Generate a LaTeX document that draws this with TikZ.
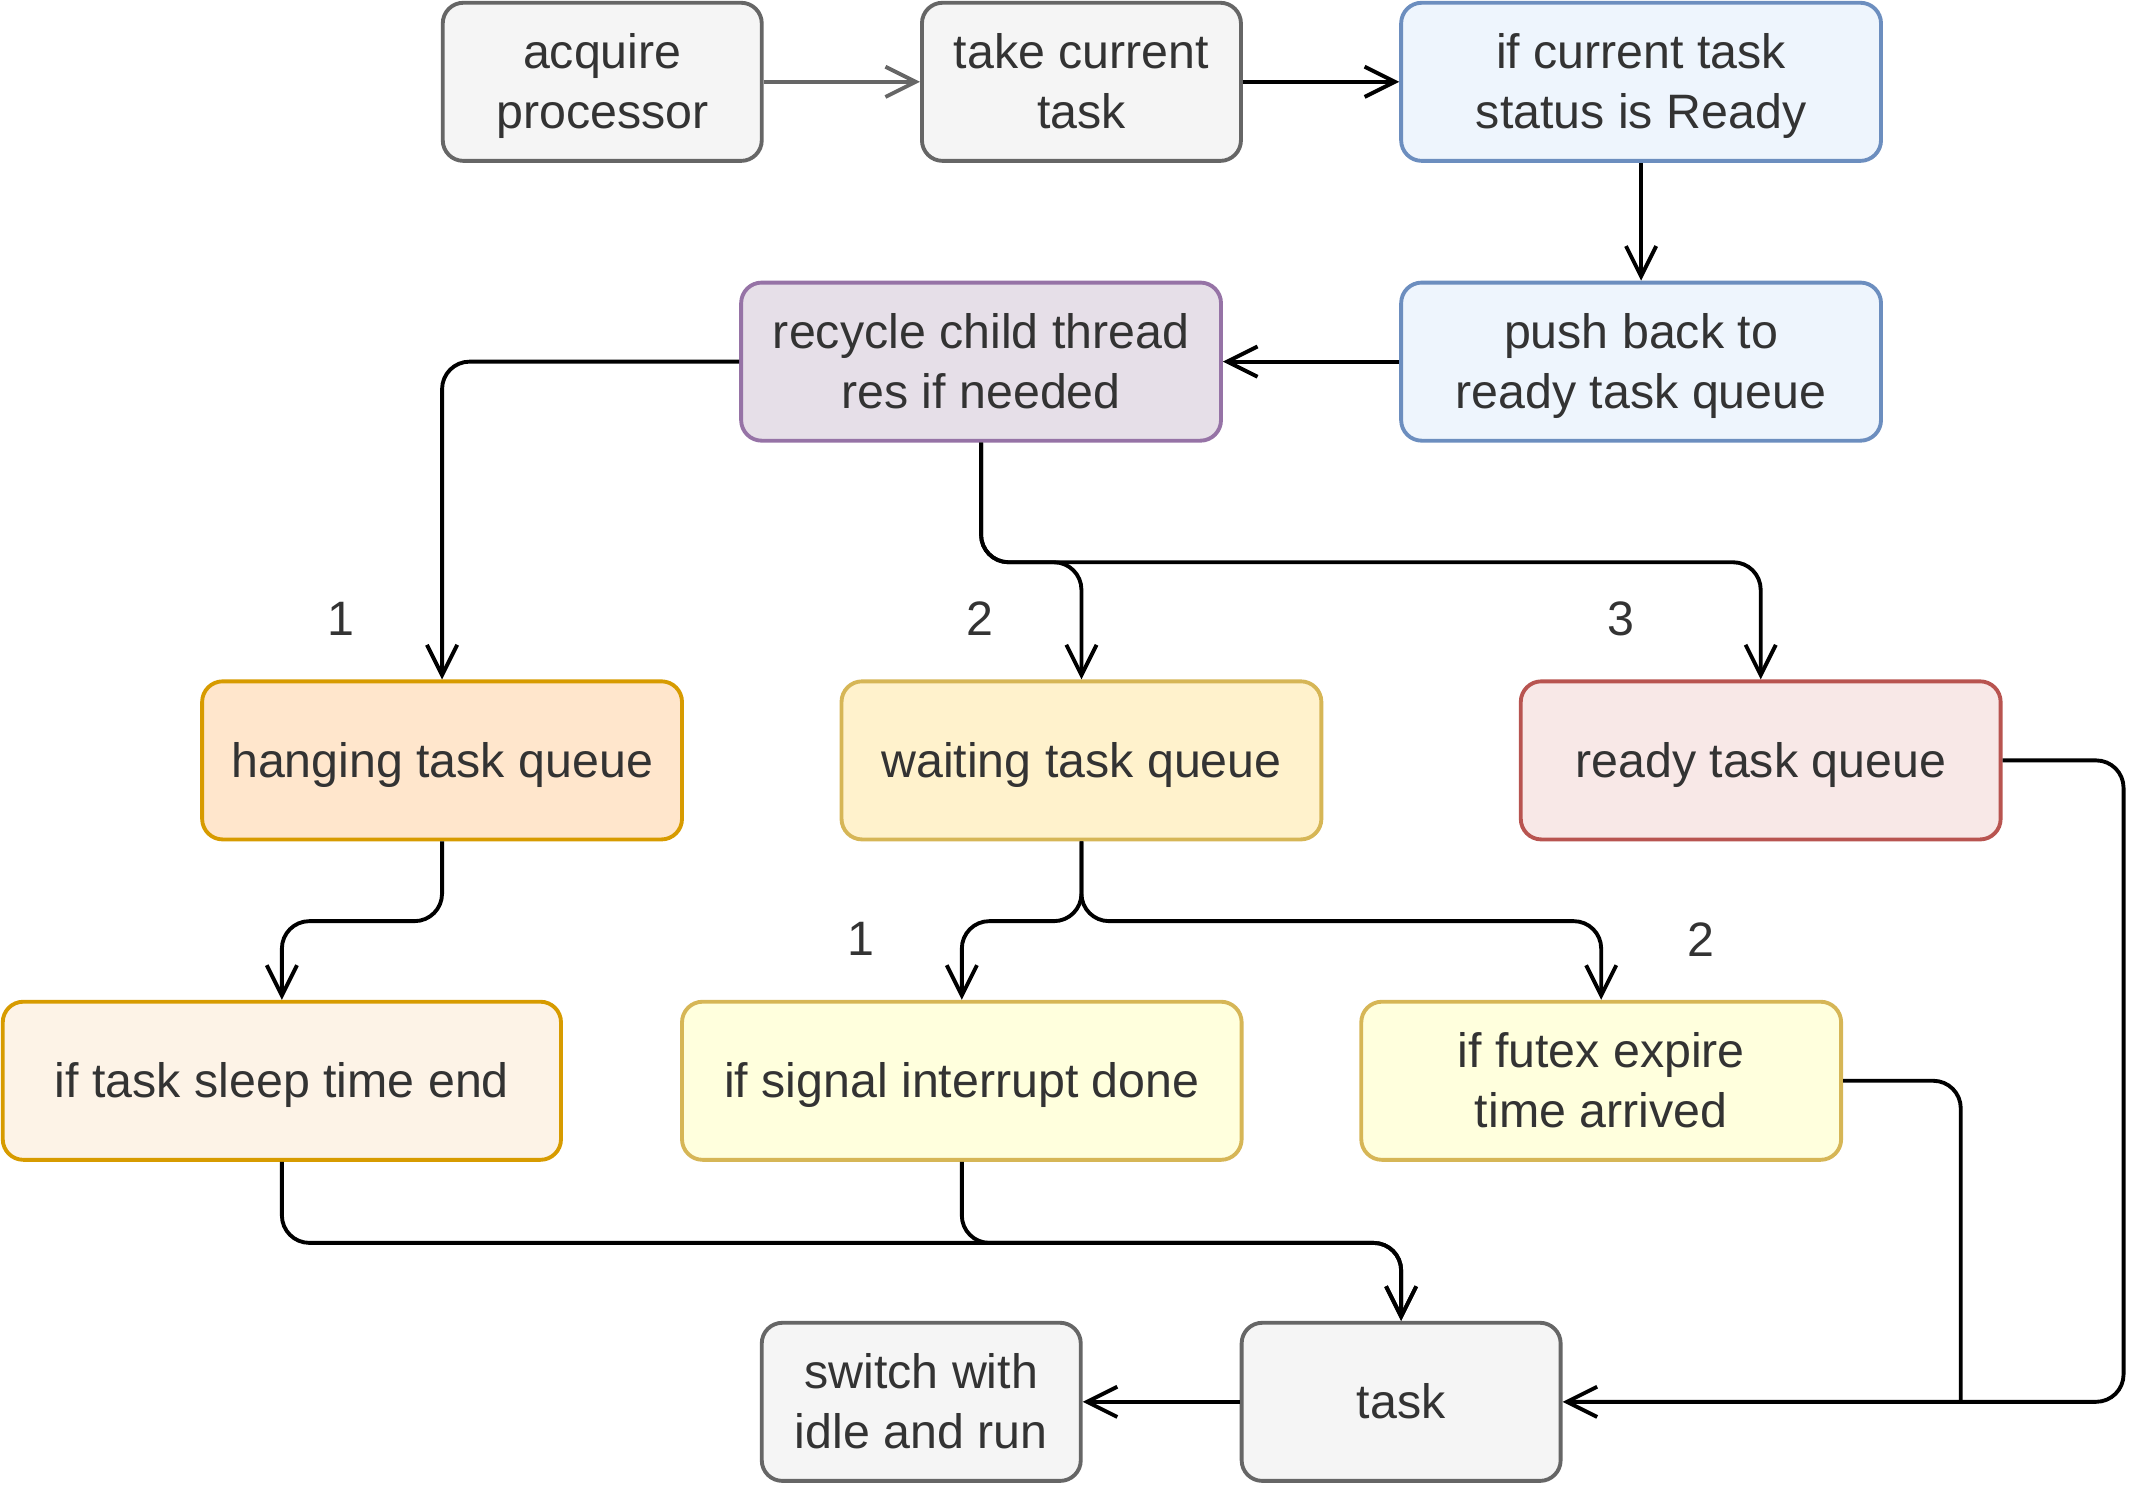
\documentclass[tikz,border=0pt]{standalone}
\usepackage{fontspec}
\setmainfont{Liberation Sans}
\usepackage{tikz}
\usetikzlibrary{arrows.meta}
\usepackage{xcolor}

\definecolor{txt}{HTML}{333333}
\definecolor{grayfill}{HTML}{F5F5F5}
\definecolor{graydraw}{HTML}{666666}
\definecolor{bluefill}{HTML}{EEF5FD}
\definecolor{bluedraw}{HTML}{6C8EBF}
\definecolor{purplefill}{HTML}{E6DFE8}
\definecolor{purpledraw}{HTML}{9673A6}
\definecolor{orangefill}{HTML}{FFE6CC}
\definecolor{orangedraw}{HTML}{D79B00}
\definecolor{peachfill}{HTML}{FDF3E7}
\definecolor{yellowfill}{HTML}{FFF2CC}
\definecolor{yellowdraw}{HTML}{D6B656}
\definecolor{lemonfill}{HTML}{FFFFDD}
\definecolor{redfill}{HTML}{F8E8E7}
\definecolor{reddraw}{HTML}{B85450}

\begin{document}
\begin{tikzpicture}[
  box/.style={rectangle, rounded corners=0.15cm, line width=0.8pt, minimum height=1.15cm,
    align=center, inner sep=0pt, text depth=2.1pt, text=txt, font=\fontsize{10}{12.3}\selectfont},
  oneline/.style={box, text height=9pt},
  twoline/.style={box, text height=21.3pt},
  graybox/.style={fill=grayfill, draw=graydraw, minimum width=2.32cm},
  bluebox/.style={twoline, fill=bluefill, draw=bluedraw, minimum width=3.49cm},
  num/.style={text=txt, font=\fontsize{10}{12.3}\selectfont},
  flow/.style={line width=0.8pt, rounded corners=0.2cm},
  >={Straight Barb[length=2.2mm,width=2.2mm]}
]
\useasboundingbox (0,0) rectangle (15.68,-10.82);

% Top row
\node[twoline, graybox] (acquire) at (4.38,-0.595) {acquire\\processor};
\node[twoline, graybox] (take) at (7.865,-0.595) {take current\\task};
\node[bluebox] (ifready) at (11.935,-0.595) {if current task\\status is Ready};

% Second row
\node[bluebox] (push) at (11.935,-2.63) {push back to\\ready task queue};
\node[twoline, fill=purplefill, draw=purpledraw, minimum width=3.49cm] (recycle) at (7.135,-2.63) {recycle child thread\\res if needed};

% Queues
\node[oneline, fill=orangefill, draw=orangedraw, minimum width=3.49cm] (hanging) at (3.215,-5.53) {hanging task queue};
\node[oneline, fill=yellowfill, draw=yellowdraw, minimum width=3.49cm] (waiting) at (7.865,-5.53) {waiting task queue};
\node[oneline, fill=redfill, draw=reddraw, minimum width=3.49cm] (readyq) at (12.805,-5.53) {ready task queue};
\node[num] (n1) at (2.48,-4.5) {1};
\node[num] (n2) at (7.13,-4.5) {2};
\node[num] (n3) at (11.79,-4.5) {3};

% Conditions
\node[oneline, fill=peachfill, draw=orangedraw, minimum width=4.06cm] (sleep) at (2.05,-7.86) {if task sleep time end};
\node[oneline, fill=lemonfill, draw=yellowdraw, minimum width=4.07cm] (signal) at (6.995,-7.86) {if signal interrupt done};
\node[twoline, fill=lemonfill, draw=yellowdraw, minimum width=3.49cm] (futex) at (11.645,-7.86) {if futex expire\\time arrived};
\node[num] (m1) at (6.26,-6.83) {1};
\node[num] (m2) at (12.37,-6.83) {2};

% Bottom row
\node[twoline, graybox] (switch) at (6.70,-10.195) {switch with\\idle and run};
\node[oneline, graybox] (task) at (10.19,-10.195) {task};
\coordinate (join) at (14.26,-10.195);

% Connectors
\draw[flow, graydraw, ->] (acquire) -- (take);
\draw[flow, ->] (take) -- (ifready);
\draw[flow, ->] (ifready) -- (push);
\draw[flow, ->] (push) -- (recycle);
\draw[flow, ->] (recycle.west) -| (hanging.north);
\draw[flow, ->] (recycle.south) -- ++(0,-0.87) -| (waiting.north);
\draw[flow, ->] (recycle.south) -- ++(0,-0.87) -| (readyq.north);
\draw[flow, ->] (hanging.south) -- ++(0,-0.58) -| (sleep.north);
\draw[flow, ->] (waiting.south) -- ++(0,-0.58) -| (signal.north);
\draw[flow, ->] (waiting.south) -- ++(0,-0.58) -| (futex.north);
\draw[flow, ->] (sleep.south) -- ++(0,-0.59) -| (task.north);
\draw[flow, ->] (signal.south) -- ++(0,-0.59) -| (task.north);
\draw[flow] (futex.east) -| (join);
\draw[flow, ->] (readyq.east) -- ++(0.88,0) |- (task.east);
\draw[flow, ->] (task) -- (switch);
\end{tikzpicture}
\end{document}
